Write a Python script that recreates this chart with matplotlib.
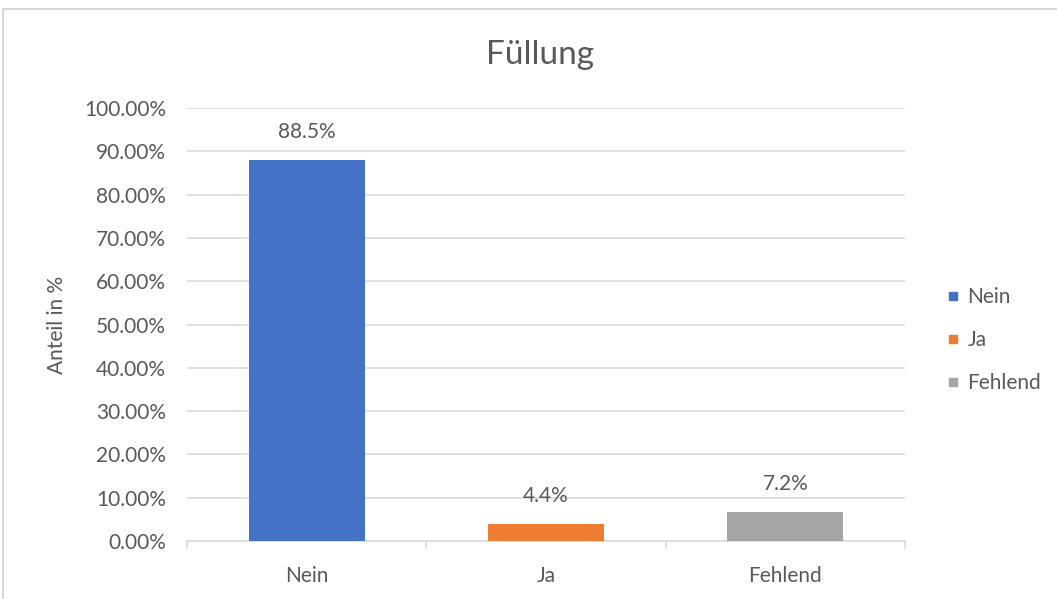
import matplotlib.pyplot as plt
from matplotlib.patches import Rectangle
from matplotlib.lines import Line2D
from matplotlib.ticker import FixedLocator, NullFormatter

categories = ["Nein", "Ja", "Fehlend"]
values = [0.880, 0.039, 0.067]
value_labels = ["88.5%", "4.4%", "7.2%"]
colors = ["#4472C4", "#ED7D31", "#A5A5A5"]
yticks = [i / 10 for i in range(11)]

plt.rcParams['font.family'] = ['Lato', 'DejaVu Sans']
text_col = "#595959"
grid_col = "#D9D9D9"
fs = 15

fig = plt.figure(figsize=(10.57, 5.99), dpi=100)
# Rahmen um das Diagramm
fig.patches.append(Rectangle((3 / 1057, -0.1), 1.2, 1 - 9 / 599 + 0.1,
                             transform=fig.transFigure, fill=False,
                             edgecolor="#D0D0D0", linewidth=1.2))

ax = fig.add_axes([187 / 1057, 1 - 541 / 599, (905 - 187) / 1057, (541 - 108) / 599])
x = range(len(categories))
bars = ax.bar(x, values, width=0.485, color=colors, zorder=3)

for b, lab in zip(bars, value_labels):
    ax.annotate(lab, (b.get_x() + b.get_width() / 2, b.get_height()),
                xytext=(0, 20), textcoords="offset points", ha="center",
                va="center", fontsize=fs, color=text_col)

ax.set_xlim(-0.5, 2.5)
ax.set_ylim(0, 1.0)
ax.set_yticks(yticks)
ax.set_yticklabels([f"{t * 100:.2f}%" for t in yticks])
ax.yaxis.grid(True, color=grid_col, linewidth=1.1, zorder=0)
ax.tick_params(axis="y", length=0, labelsize=fs, labelcolor=text_col, pad=15)

ax.set_xticks(list(x))
ax.set_xticklabels(categories)
ax.tick_params(axis="x", which="major", length=0, labelsize=fs,
               labelcolor=text_col, pad=18)
ax.xaxis.set_minor_locator(FixedLocator([-0.5, 0.5, 1.5, 2.5]))
ax.xaxis.set_minor_formatter(NullFormatter())
ax.tick_params(axis="x", which="minor", length=6, color=grid_col, width=1.1)

for s in ["left", "right", "top"]:
    ax.spines[s].set_visible(False)
ax.spines["bottom"].set_color(grid_col)
ax.spines["bottom"].set_linewidth(1.1)

ax.set_ylabel("Anteil in %", fontsize=fs, color=text_col, labelpad=12)
fig.text(540 / 1057, 1 - 55 / 599, "Füllung", ha="center", va="center",
         fontsize=24, color=text_col)

handles = [Line2D([], [], marker="s", linestyle="", markersize=6,
                  color=c) for c in colors]
fig.legend(handles, categories, loc="center left",
           bbox_to_anchor=(928 / 1057, 1 - 340 / 599), frameon=False,
           fontsize=fs, labelcolor=text_col, handlelength=0.6,
           handletextpad=0.4, labelspacing=1.1)

fig.savefig("out.png", dpi=100)
